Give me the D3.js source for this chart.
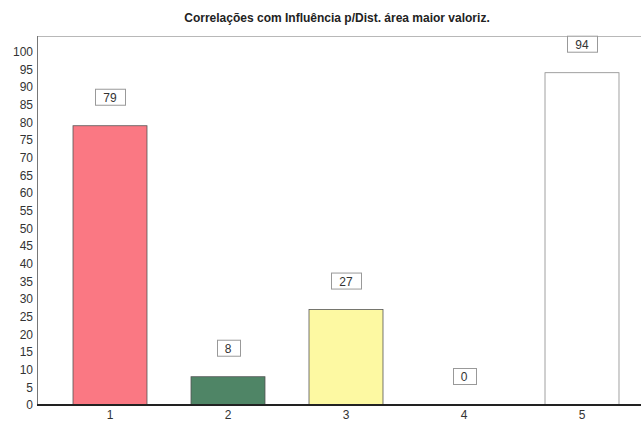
<!DOCTYPE html>
<html>
<head>
<meta charset="utf-8">
<script src="https://cdn.jsdelivr.net/npm/d3@7"></script>
<style>
  html, body { margin: 0; padding: 0; background: #fff; }
  svg { display: block; }
  text { font-family: "Liberation Sans", Arial, sans-serif; }
</style>
</head>
<body>
<script>
// Chart data
const title = "Correlações com Influência p/Dist. área maior valoriz.";
const categories = ["1", "2", "3", "4", "5"];
const values = [79, 8, 27, 0, 94];
const barColors = ["#fa7883", "#4f8566", "#fdf9a2", "#ffffff", "#ffffff"];
const yTicks = d3.range(0, 101, 5);

const width = 641, height = 423;
const plotLeft = 37, plotTop = 36, plotBottom = 405;

const svg = d3.select("body").append("svg")
  .attr("width", width).attr("height", height);

const x = d3.scaleBand()
  .domain(categories)
  .range([51, 641])
  .paddingInner(0.373)
  .paddingOuter(0.1865);

const y = d3.scaleLinear()
  .domain([0, 100])
  .range([plotBottom, 51.5]);

// Title
svg.append("text")
  .attr("x", 337).attr("y", 22)
  .attr("text-anchor", "middle")
  .attr("font-size", 12).attr("font-weight", "bold")
  .attr("fill", "#222")
  .text(title);

// Plot frame: top edge and y axis line
svg.append("line")
  .attr("x1", plotLeft).attr("x2", width)
  .attr("y1", plotTop + 0.5).attr("y2", plotTop + 0.5)
  .attr("stroke", "#b8b8b8").attr("stroke-width", 1);

svg.append("line")
  .attr("x1", plotLeft + 0.5).attr("x2", plotLeft + 0.5)
  .attr("y1", plotTop).attr("y2", plotBottom)
  .attr("stroke", "#777").attr("stroke-width", 1);

// Y axis labels
const yAxis = d3.axisLeft(y).tickValues(yTicks).tickSize(0).tickPadding(4);
const gy = svg.append("g")
  .attr("transform", `translate(${plotLeft},0)`)
  .call(yAxis);
gy.select(".domain").remove();
gy.selectAll("text")
  .attr("font-size", 12)
  .attr("fill", "#333")
  .style("font-family", "'Liberation Sans', Arial, sans-serif");

// Bars
svg.append("g").selectAll("rect")
  .data(values)
  .join("rect")
  .attr("x", (d, i) => x(categories[i]))
  .attr("y", d => y(d))
  .attr("width", x.bandwidth())
  .attr("height", d => y(0) - y(d))
  .attr("fill", (d, i) => barColors[i])
  .attr("stroke", (d, i) => i === 4 ? "#8a8a8a" : "#555")
  .attr("stroke-width", 0.8);

// Baseline
svg.append("line")
  .attr("x1", plotLeft).attr("x2", width)
  .attr("y1", y(0)).attr("y2", y(0))
  .attr("stroke", "#222").attr("stroke-width", 2);

// X axis labels
const xAxis = d3.axisBottom(x).tickSize(0).tickPadding(5);
const gx = svg.append("g")
  .attr("transform", `translate(0,${y(0)})`)
  .call(xAxis);
gx.select(".domain").remove();
gx.selectAll("text")
  .attr("font-size", 12)
  .attr("fill", "#333")
  .style("font-family", "'Liberation Sans', Arial, sans-serif");

// Value labels in boxes above each bar
const labels = svg.append("g").selectAll("g")
  .data(values)
  .join("g")
  .attr("transform", (d, i) =>
    `translate(${x(categories[i]) + x.bandwidth() / 2},${y(d) - 28})`);

labels.append("text")
  .attr("text-anchor", "middle")
  .attr("dy", "0.35em")
  .attr("font-size", 12)
  .attr("fill", "#333")
  .text(d => d);

labels.each(function() {
  const g = d3.select(this);
  const bb = g.select("text").node().getBBox();
  g.insert("rect", "text")
    .attr("x", Math.round(bb.x - 8) + 0.5)
    .attr("y", -8.5)
    .attr("width", Math.round(bb.width + 16))
    .attr("height", 16)
    .attr("fill", "#fff")
    .attr("stroke", "#999")
    .attr("stroke-width", 1);
});
</script>
</body>
</html>
